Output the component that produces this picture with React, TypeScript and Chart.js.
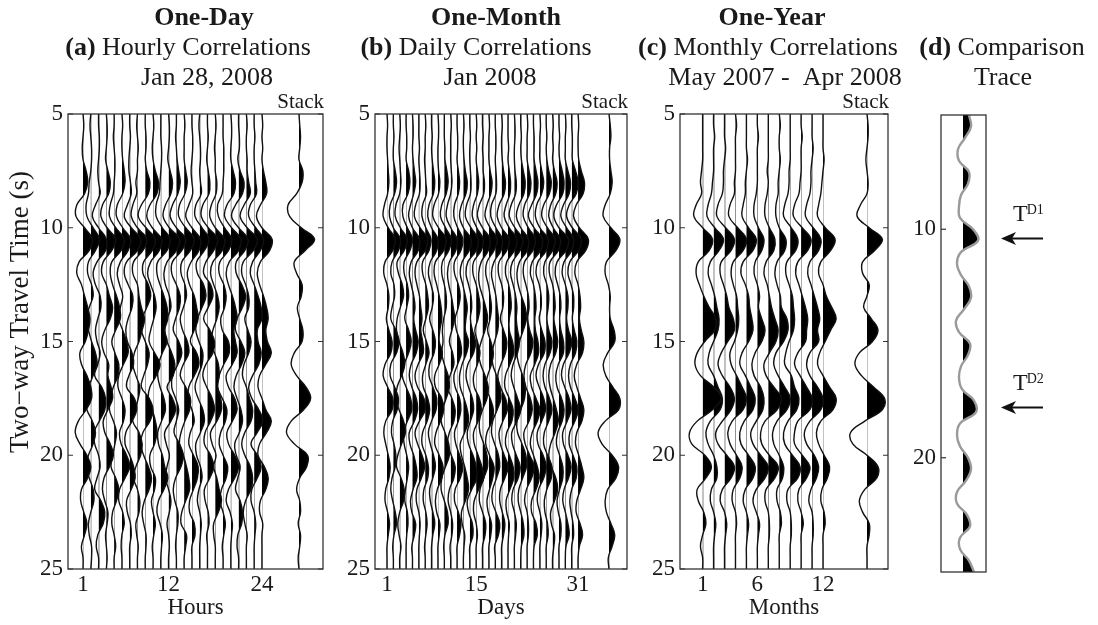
import React, { useEffect, useRef } from 'react';
import { Chart, registerables } from 'chart.js';

Chart.register(...registerables);

const FONT = "'Liberation Serif', 'Times New Roman', Times, serif";
const INK = '#1a1a1a';

// Sample times (s) of every trace
const TIMES = [5, 5.5, 6, 6.5, 7, 7.5, 8, 8.5, 9, 9.5, 10, 10.5, 11, 11.5, 12, 12.5, 13, 13.5, 14, 14.5, 15, 15.5, 16, 16.5, 17, 17.5, 18, 18.5, 19, 19.5, 20, 20.5, 21, 21.5, 22, 22.5, 23, 23.5, 24, 24.5, 25];

const TIME_TICKS = [5, 10, 15, 20, 25];
const COMP_TICKS = [10, 20];
const HOUR_TICKS = [1, 12, 24];
const DAY_TICKS = [1, 15, 31];
const MONTH_TICKS = [1, 6, 12];

// (a) hourly correlations, amplitude in tenths of trace spacing
const HOURLY = [
  [0,1,0,-1,0,4,6,2,-8,-9, 2,12,8,-5,-8,-2,2,6,9,7, 3,-4,-2,5,10,11,4,-6,-10,-4, 5,10,6,-2,-3,1,5,2,-2,0,0],
  [0,-1,0,1,1,0,-2,-3,-6,-5, 3,11,6,-3,-4,1,3,-2,-6,-3, 1,6,8,3,-3,-7,-5,2,6,3, -3,-6,-2,3,4,0,-3,-2,1,1,0],
  [0,0,1,1,0,-1,0,2,-4,-8, 0,10,9,-2,-7,-4,2,3,-1,-4, -2,2,-1,-5,4,9,8,1,-6,-5, 0,2,-2,-5,3,8,6,-1,-3,0,0],
  [0,1,1,0,-1,2,5,3,-5,-7, 1,12,7,-4,-6,0,4,8,5,-2, -6,-3,3,2,6,8,2,-4,-2,5, 9,4,-3,-5,-2,2,1,-1,0,1,0],
  [0,0,-1,0,1,1,0,-1,-5,-6, 2,13,9,-3,-5,-2,3,7,8,2, -3,1,6,5,-1,-5,-6,-1,3,1, -2,-4,2,6,3,-2,-3,0,2,0,0],
  [0,1,0,0,1,3,4,1,-6,-7, 1,11,8,-2,-6,-3,1,-2,-4,1, 6,8,2,-4,-5,0,4,2,-3,-1, 6,10,4,-3,-4,1,3,0,-1,0,0],
  [0,0,1,0,-1,-1,1,2,-3,-7, 2,14,10,-4,-7,-2,4,3,-2,-5, -3,3,5,-1,-4,6,9,3,-5,-6, 0,5,7,2,-4,-3,1,2,0,0,0],
  [0,-1,0,1,0,0,-2,-1,-6,-8, 0,12,7,-5,-6,0,2,5,9,6, 2,-4,-6,-2,3,1,-3,-6,2,6, 4,-2,-5,0,3,2,-2,-1,1,0,0],
  [0,0,1,1,0,2,6,4,-5,-9, 1,13,9,-2,-3,4,7,2,-4,-5, 0,5,3,-2,-5,5,10,6,-3,-6, -2,4,8,5,-1,-4,-2,1,1,0,0],
  [0,1,0,-1,0,3,7,5,-4,-8, -1,11,8,-3,-7,-3,2,4,1,-3, -5,2,9,4,-4,-6,-1,3,5,2, -4,-3,3,2,-2,0,3,1,-1,0,0],
  [0,0,0,1,1,0,-1,-2,-6,-6, 2,12,8,-4,-5,-1,4,8,9,5, 8,2,-3,-4,-1,4,6,1,-4,-3, 2,5,9,4,-3,-5,-1,2,1,0,0],
  [0,1,1,0,-1,2,5,3,-4,-7, 1,14,10,-2,-6,-4,1,3,-2,-5, -2,4,8,6,-2,5,9,3,-5,-3, 1,-2,-4,0,3,1,-2,0,1,0,0],
  [0,0,-1,0,1,3,5,2,-5,-8, 0,12,7,-5,-6,0,5,4,-1,-4, 3,7,2,-5,-6,-1,3,0,-3,4, 9,6,-1,-4,-2,2,2,0,-1,0,0],
  [0,1,0,0,0,2,4,1,-6,-7, 2,13,8,-3,-4,1,3,-1,-5,-2, 4,6,-1,-5,2,8,7,1,-4,-6, -1,3,6,7,2,-3,-4,3,2,0,0],
  [0,0,1,1,0,-1,0,1,-4,-8, 0,11,9,-1,-6,-3,3,6,8,3, -2,6,9,3,-4,-5,0,3,-2,-4, 2,8,7,2,-3,-3,3,4,0,0,0],
  [0,-1,0,1,1,0,1,2,-5,-6, 3,12,6,-4,-3,5,8,3,-3,-5, -1,4,3,-2,-6,-2,4,6,1,-5, -4,1,3,-1,-3,0,2,1,0,0,0],
  [0,0,1,0,-1,1,3,2,-6,-8, 1,13,8,-2,-5,4,7,1,-5,3, 9,7,-2,-6,-1,6,9,4,-3,-4, 4,8,3,-4,-3,1,2,-1,0,0,0],
  [0,1,0,-1,0,0,2,1,-5,-7, 0,12,9,-3,-6,-2,3,5,2,-3, -5,-1,4,5,3,7,8,2,-6,-4, 1,-2,2,5,8,4,-2,-2,0,0,0],
  [0,0,0,1,1,1,0,-1,-7,-6, 2,11,7,-4,-5,1,4,2,-3,-1, 7,8,1,-5,-7,-1,5,3,-3,-5, 0,6,4,-2,-4,0,3,1,-1,0,0],
  [0,1,1,0,0,3,6,4,-5,-8, 1,13,10,-2,-6,-3,2,6,8,4, 6,8,2,-6,-3,5,8,2,-5,-3, 5,10,5,-3,-6,-1,2,1,0,0,0],
  [0,0,1,1,-1,2,7,5,-4,-9, 0,12,8,-3,-3,4,9,5,-2,-4, 3,8,4,-3,-6,-2,3,5,1,-5, -3,2,-1,-4,2,5,4,-1,-2,0,0],
  [0,1,0,0,1,1,3,5,-3,-8, 1,14,9,-4,-6,-1,3,3,-2,2, 6,3,-3,-5,0,4,8,6,-2,-6, -2,5,8,6,-1,-4,-2,1,0,0,0],
  [0,0,1,0,0,1,2,3,-5,-7, 2,12,8,-2,-5,0,5,9,10,4, 5,9,6,-2,-7,-3,6,11,4,-4, 4,9,4,-3,-4,0,2,1,0,0,0],
  [0,1,0,1,0,2,5,6,-2,-7, 0,13,10,-2,-6,-3,2,6,8,5, 7,12,5,-3,-5,0,5,12,6,-3, -5,3,8,5,-2,-3,1,0,0,0,0],
];
const HOURLY_STACK = [0,1,2,1,0,5,4,-3,-14,-12, 3,20,8,-6,-3,4,3,-2,1,5, 4,-6,-10,-3,9,15,6,-10,-16,-6, 11,10,1,-3,1,2,-1,2,1,-1,0];

// (b) daily correlations
const DAILY = [
  [0,1,0,0,1,2,3,1,-4,-6, 2,13,9,-3,-5,0,3,2,-1,3, 8,6,-3,-6,1,9,8,-2,-5,-2, 2,5,3,-2,-3,1,4,2,0,0,0],
  [0,0,1,0,0,3,5,2,-5,-6, 0,11,8,-2,-4,1,2,-2,-4,4, 9,5,-4,-5,2,8,6,-1,-3,1, 4,3,-2,-4,-1,3,5,1,-1,0,0],
  [0,1,0,-1,0,1,2,0,-6,-7, 1,12,7,-4,-2,4,6,1,-4,-5, -1,5,8,3,-4,-6,-1,6,9,3, -3,-5,2,7,6,0,-3,-1,2,0,0],
  [0,0,1,1,0,4,6,3,-5,-5, 2,10,6,-3,-3,2,4,1,-2,4, 8,4,-3,-6,0,7,9,2,-4,-3, 1,4,2,-1,-2,2,3,1,0,0,0],
  [0,1,1,0,1,3,5,2,-3,-6, 0,11,9,-2,-5,-2,2,4,2,5, 9,6,-2,-5,-1,6,8,3,-5,-4, 2,6,7,1,-3,-1,5,3,-1,0,0],
  [0,0,0,1,0,1,2,1,-5,-7, 2,14,10,-3,-6,-3,1,3,5,3, 6,7,-1,-6,-2,8,10,1,-6,-2, 5,9,4,-3,-4,0,2,1,0,0,0],
  [0,1,0,0,-1,0,1,2,-4,-5, 1,9,6,-4,-4,1,4,5,1,-3, 2,6,1,-4,-3,4,7,3,-4,-5, 1,5,4,-2,-3,1,3,1,-1,0,0],
  [0,0,1,0,1,3,5,3,-4,-6, 0,10,8,-2,-5,-1,3,1,-3,2, 6,4,-3,-4,2,8,7,0,-5,-2, 3,6,2,-3,-2,2,5,2,0,0,0],
  [0,1,1,0,0,1,3,1,-6,-8, 1,13,9,-4,-6,-2,2,5,6,3, 2,7,2,-5,-4,6,9,4,-3,-5, 2,8,6,-1,-4,-2,3,2,0,0,0],
  [0,0,0,1,1,4,6,3,-4,-6, 2,11,7,-3,-4,0,3,3,-1,-3, -2,-4,0,6,8,3,-3,-5,1,7, 8,2,-4,-5,0,5,6,1,-1,0,0],
  [0,1,0,0,0,1,2,0,-5,-7, 0,10,8,-2,-5,-3,1,4,6,2, -2,3,5,-1,-5,2,7,5,-2,-5, 1,7,5,-2,-4,0,3,2,-1,0,0],
  [0,0,1,1,0,2,4,2,-4,-5, 1,9,6,-4,-4,2,5,2,-3,-1, 5,7,1,-5,-3,4,6,2,-4,-2, 4,9,5,-3,-4,2,6,4,0,0,0],
  [0,1,0,0,1,3,6,4,-3,-6, 0,12,9,-2,-5,-1,3,6,4,3, 8,5,-2,-6,-5,1,6,8,2,-5, -3,2,6,8,3,-3,-2,2,1,0,0],
  [0,0,1,0,0,1,2,1,-5,-7, 2,13,10,-3,-6,-2,2,3,1,4, 9,6,-3,-6,-2,4,6,1,-4,-2, 5,10,11,3,-4,-2,4,5,0,0,0],
  [0,1,0,1,0,2,4,2,-4,-6, 1,11,8,-4,-5,0,4,6,3,-2, 2,6,2,-4,-3,5,8,3,-4,-3, 3,9,12,4,-3,-4,0,2,0,0,0],
  [0,0,1,0,1,1,3,2,-5,-8, 0,12,9,-2,-6,-5,0,5,8,4, -2,-6,-3,4,9,7,0,-5,-4,2, 7,8,2,-4,-5,0,5,4,0,0,0],
  [0,1,0,0,0,2,5,3,-3,-6, 2,13,8,-3,-5,-1,2,4,2,-2, 3,7,4,-2,-5,2,7,5,-3,-5, 1,8,6,1,-3,-1,4,3,0,0,0],
  [0,0,1,1,0,1,2,1,-6,-7, 1,11,9,-2,-6,-3,1,3,5,4, -1,-5,-4,2,7,9,3,-4,-6,-1, 5,7,2,-4,-5,1,7,5,-1,0,0],
  [0,1,0,0,1,3,6,4,-4,-7, 0,12,8,-4,-5,0,3,2,-2,3, 8,6,-1,-6,-2,6,9,2,-4,-2, 4,10,5,-2,-3,1,5,3,0,0,0],
  [0,0,0,1,0,2,4,3,-3,-6, 2,14,10,-2,-4,1,4,5,2,2, 7,9,3,-4,-5,2,8,6,-2,-4, 2,8,9,3,-3,-2,2,1,0,0,0],
  [0,1,1,0,0,1,3,2,-5,-8, 1,13,9,-3,-6,-2,2,4,3,5, 8,5,-2,-5,-1,5,10,4,-4,-3, 3,9,6,-2,-4,0,3,2,0,0,0],
  [0,0,1,0,1,4,7,5,-3,-7, 0,12,10,-2,-6,-4,1,7,9,4, -2,-6,-3,3,7,6,0,-6,-5,2, 8,9,3,-3,-4,0,4,5,1,0,0],
  [0,1,0,0,0,3,6,4,-4,-6, 2,13,9,-4,-6,-2,2,3,1,4, 9,6,-2,-5,-2,5,8,3,-5,-3, 4,11,7,-1,-4,0,2,2,0,0,0],
  [0,0,1,1,1,4,7,5,-3,-8, 1,14,11,-2,-5,0,3,4,2,3, 7,8,2,-5,-3,4,10,6,-2,-5, 0,6,9,4,-3,-3,4,6,1,0,0],
  [0,1,0,0,0,3,6,3,-5,-7, 0,13,10,-3,-6,-1,2,2,-1,3, 8,7,-2,-6,-1,6,9,3,-4,-3, 5,10,6,-2,-4,0,3,2,0,0,0],
  [0,0,1,0,1,4,8,5,-4,-7, 2,14,10,-2,-4,1,4,3,1,4, 9,6,-2,-5,-2,5,9,4,-3,-4, 2,9,8,1,-3,-2,2,3,0,0,0],
  [0,1,0,1,0,3,7,5,-3,-6, 1,12,9,-4,-5,0,3,4,2,5, 8,5,-3,-6,-4,1,6,9,4,-3, -6,-2,5,8,3,-3,-2,3,2,0,0],
  [0,0,1,0,1,5,8,6,-4,-8, 0,15,11,-3,-6,-2,2,3,1,3, 7,7,-1,-5,-3,4,8,5,-2,-4, 1,6,6,1,-3,-1,3,3,0,0,0],
  [0,1,0,0,0,4,8,6,-3,-7, 2,13,10,-2,-5,0,4,4,2,5, 10,6,-3,-6,-1,6,9,3,-4,-3, 4,9,5,-2,-4,0,4,6,1,0,0],
  [0,0,1,1,1,6,10,7,-4,-8, 1,15,11,-3,-6,-1,3,3,1,4, 8,6,-2,-5,-2,5,10,5,-3,-4, 2,8,7,0,-3,-1,2,3,0,0,0],
  [0,1,0,0,1,5,10,8,-3,-7, 2,16,12,-2,-5,0,3,4,2,5, 9,7,-2,-6,-2,4,9,6,-2,-4, 1,6,9,4,-2,-3,3,7,2,0,0],
];
const DAILY_STACK = [0,2,3,1,1,3,5,2,-6,-9, 3,17,11,-4,-6,-1,2,1,2,8, 9,-2,-9,-5,6,17,15,-6,-17,-11, 5,15,11,-2,-6,-4,3,9,5,-1,0];

// (c) monthly correlations
const MONTHLY = [
  [0,0,0,0,0,-1,-2,-1,-6,-8, 0,9,6,-4,-6,-3,1,6,12,11, 2,-5,-7,-2,10,17,9,-5,-12,-10, 2,8,3,-5,-4,1,3,0,-2,0,0],
  [0,0,1,0,0,0,-1,-2,-5,-6, 1,9,5,-3,-5,-2,1,3,5,4, 0,-4,-5,0,4,8,6,-3,-7,-5, 0,3,3,-2,-3,0,2,1,0,0,0],
  [0,0,0,1,0,-1,-1,-2,-6,-7, 1,9,6,-3,-4,-1,2,4,8,9, 3,-3,-6,-2,5,9,6,-2,-8,-6, 2,9,6,-2,-4,0,2,1,0,0,0],
  [0,1,0,0,0,0,-1,-1,-5,-6, 2,10,7,-2,-4,-2,1,2,3,2, -1,-5,-4,1,6,10,7,-3,-7,-5, 1,6,4,-2,-3,0,1,0,0,0,0],
  [0,0,0,0,1,0,-1,-1,-3,-4, 2,9,6,-3,-5,-1,2,3,5,6, 2,-4,-6,-1,4,8,6,-2,-6,-5, 2,8,6,-1,-3,0,2,1,0,0,0],
  [0,0,1,0,0,0,0,-1,-3,-3, 1,6,4,-2,-3,0,2,1,4,7, 4,-2,-5,-3,3,6,5,-1,-6,-4, 3,10,7,-1,-4,-1,2,1,0,0,0],
  [0,0,0,0,0,-1,0,-1,-3,-3, 1,6,5,-2,-4,-1,1,3,6,9, 7,1,-4,-2,5,12,8,-3,-7,-6, 1,9,6,-2,-3,0,1,1,0,0,0],
  [0,1,0,0,1,0,-1,-1,-3,-3, 0,6,5,-2,-4,-2,1,2,7,8, 4,-3,-5,-1,5,10,7,-2,-6,-5, 0,4,3,-2,-2,1,2,0,0,0,0],
  [0,0,0,0,0,-1,-1,-2,-5,-6, 1,7,5,-3,-4,-1,2,3,4,3, -1,-4,-5,1,4,8,6,-2,-6,-5, 2,9,7,-2,-3,0,1,1,0,0,0],
  [0,0,1,0,0,0,-1,-2,-6,-7, 1,9,6,-3,-5,-2,1,4,6,5, 4,-3,-6,-1,5,10,8,-3,-6,-6, 1,8,5,-2,-3,0,2,0,0,0,0],
  [0,0,0,1,0,-1,-1,-2,-5,-6, 1,8,6,-2,-4,-1,2,5,7,5, 6,-2,-5,-2,5,10,8,-2,-7,-5, 2,6,4,-1,-3,0,1,1,0,0,0],
  [0,0,0,0,1,0,-1,-2,-4,-5, 2,11,7,-2,-4,0,3,8,12,7, 2,-3,-5,0,6,12,9,-2,-6,-4, 1,6,4,-1,-2,1,2,0,0,0,0],
];
const MONTHLY_STACK = [0,1,1,0,-1,0,1,0,-6,-9, 2,14,7,-4,-4,2,0,-3,4,10, 5,-7,-11,-5,6,16,14,-2,-15,-13, 0,10,9,-2,-7,-4,2,2,0,0,0];

// (d) comparison trace, amplitude in pixels of panel width
const COMPARISON = [6,8,2,-5,-4,6,5,-2,-4,-3, 10,15,-2,-6,-2,6,8,1,-7,-4, 7,5,-2,-4,-1,11,13,-3,-6,-3, 5,8,3,-6,-6,4,7,-3,-3,6,11];

const ARROW_TIMES = [10.4, 17.8];
const ARROW_LABELS = ['D1', 'D2'];

type Seg = { t: string; b?: boolean };
type TitleLine = { segs: Seg[]; cx: number; y: number };

type Panel = {
  id: string;
  left: number;
  width: number;
  frameL: number;
  frameR: number;
  top: number;
  bottom: number;
  xMin: number;
  xMax: number;
  traces: number[][];
  stack?: number[];
  stackX?: number;
  amp: number;
  xTicks?: number[];
  yTicks: number[];
  xTitle?: string;
  titles: TitleLine[];
  stackLabel?: boolean;
  yTitle?: boolean;
  comparison?: boolean;
};

const PANELS: Panel[] = [
  {
    id: 'a', left: 0, width: 345, frameL: 68, frameR: 323, top: 114, bottom: 569,
    xMin: -0.93, xMax: 31.85, traces: HOURLY, stack: HOURLY_STACK, stackX: 28.76, amp: 0.1,
    xTicks: HOUR_TICKS, yTicks: TIME_TICKS, xTitle: 'Hours', stackLabel: true, yTitle: true,
    titles: [
      { segs: [{ t: 'One-Day', b: true }], cx: 204, y: 25 },
      { segs: [{ t: '(a)', b: true }, { t: ' Hourly Correlations' }], cx: 188, y: 55 },
      { segs: [{ t: 'Jan 28, 2008' }], cx: 207, y: 85 },
    ],
  },
  {
    id: 'b', left: 340, width: 310, frameL: 375, frameR: 627, top: 114, bottom: 569,
    xMin: -0.88, xMax: 38.68, traces: DAILY, stack: DAILY_STACK, stackX: 35.85, amp: 0.1,
    xTicks: DAY_TICKS, yTicks: TIME_TICKS, xTitle: 'Days', stackLabel: true,
    titles: [
      { segs: [{ t: 'One-Month', b: true }], cx: 496, y: 25 },
      { segs: [{ t: '(b)', b: true }, { t: ' Daily Correlations' }], cx: 476, y: 55 },
      { segs: [{ t: 'Jan 2008' }], cx: 490, y: 85 },
    ],
  },
  {
    id: 'c', left: 630, width: 285, frameL: 680, frameR: 888, top: 114, bottom: 569,
    xMin: -1.07, xMax: 17.94, traces: MONTHLY, stack: MONTHLY_STACK, stackX: 16.02, amp: 0.1,
    xTicks: MONTH_TICKS, yTicks: TIME_TICKS, xTitle: 'Months', stackLabel: true,
    titles: [
      { segs: [{ t: 'One-Year', b: true }], cx: 772, y: 25 },
      { segs: [{ t: '(c)', b: true }, { t: ' Monthly Correlations' }], cx: 768, y: 55 },
      { segs: [{ t: 'May 2007 -  Apr 2008' }], cx: 785, y: 85 },
    ],
  },
  {
    id: 'd', left: 895, width: 203, frameL: 941, frameR: 986, top: 115, bottom: 572,
    xMin: -22, xMax: 23, traces: [COMPARISON], amp: 1, yTicks: COMP_TICKS, comparison: true,
    titles: [
      { segs: [{ t: '(d)', b: true }, { t: ' Comparison' }], cx: 1002, y: 55 },
      { segs: [{ t: 'Trace' }], cx: 1003, y: 85 },
    ],
  },
];

function traceDataset(values: number[], base: number, amp: number, comparison: boolean): any {
  return {
    data: values.map((v, i) => ({ x: base + v * amp, y: TIMES[i] })),
    base,
    guide: !comparison,
    fillColor: '#000',
    showLine: true,
    pointRadius: 0,
    pointHoverRadius: 0,
    borderColor: comparison ? '#9a9a9a' : '#111',
    borderWidth: comparison ? 2.4 : 1.4,
    tension: 0.4,
    fill: false,
  };
}

function drawRich(ctx: CanvasRenderingContext2D, segs: Seg[], cx: number, y: number, size: number) {
  let total = 0;
  const widths = segs.map((s) => {
    ctx.font = `${s.b ? 'bold ' : ''}${size}px ${FONT}`;
    const w = ctx.measureText(s.t).width;
    total += w;
    return w;
  });
  let x = cx - total / 2;
  ctx.textAlign = 'left';
  ctx.textBaseline = 'alphabetic';
  segs.forEach((s, i) => {
    ctx.font = `${s.b ? 'bold ' : ''}${size}px ${FONT}`;
    ctx.fillText(s.t, x, y);
    x += widths[i];
  });
}

function makePlugin(p: Panel) {
  return {
    id: 'wiggle_' + p.id,
    beforeDatasetsDraw(chart: any) {
      const { ctx, chartArea: a, scales } = chart;
      ctx.save();
      ctx.strokeStyle = '#c2c2c2';
      ctx.lineWidth = 1;
      chart.data.datasets.forEach((ds: any) => {
        if (!ds.guide) return;
        const x = Math.round(scales.x.getPixelForValue(ds.base)) + 0.5;
        ctx.beginPath();
        ctx.moveTo(x, a.top);
        ctx.lineTo(x, a.bottom);
        ctx.stroke();
      });
      ctx.restore();
    },
    beforeDatasetDraw(chart: any, args: any) {
      const { ctx, chartArea: a, scales } = chart;
      const ds = chart.data.datasets[args.index];
      const line = args.meta.dataset;
      if (!line || !line.points || !line.points.length) return;
      if (line.updateControlPoints) line.updateControlPoints(a, 'x');
      const pts = line.points;
      const basePx = scales.x.getPixelForValue(ds.base);
      ctx.save();
      ctx.beginPath();
      ctx.rect(basePx, a.top, a.right - basePx, a.bottom - a.top);
      ctx.clip();
      ctx.beginPath();
      if (typeof line.path === 'function') {
        line.path(ctx);
      } else {
        ctx.moveTo(pts[0].x, pts[0].y);
        for (let i = 1; i < pts.length; i++) {
          const pr = pts[i - 1];
          const pt = pts[i];
          ctx.bezierCurveTo(pr.cp2x ?? pr.x, pr.cp2y ?? pr.y, pt.cp1x ?? pt.x, pt.cp1y ?? pt.y, pt.x, pt.y);
        }
      }
      ctx.lineTo(basePx, pts[pts.length - 1].y);
      ctx.lineTo(basePx, pts[0].y);
      ctx.closePath();
      ctx.fillStyle = ds.fillColor;
      ctx.fill();
      ctx.restore();
    },
    afterDraw(chart: any) {
      const { ctx, chartArea: a, scales } = chart;
      const off = p.left;
      ctx.save();
      // frame
      ctx.strokeStyle = '#333';
      ctx.lineWidth = 1.3;
      ctx.strokeRect(a.left, a.top, a.right - a.left, a.bottom - a.top);
      // inward ticks
      ctx.lineWidth = 1.2;
      p.yTicks.forEach((t) => {
        const y = scales.y.getPixelForValue(t);
        ctx.beginPath();
        ctx.moveTo(a.left, y);
        ctx.lineTo(a.left + 5, y);
        if (!p.comparison) {
          ctx.moveTo(a.right, y);
          ctx.lineTo(a.right - 5, y);
        }
        ctx.stroke();
      });
      ctx.fillStyle = INK;
      // titles
      p.titles.forEach((tl) => drawRich(ctx, tl.segs, tl.cx - off, tl.y, 26));
      // stack label
      if (p.stackLabel) {
        ctx.font = `21px ${FONT}`;
        ctx.textAlign = 'right';
        ctx.textBaseline = 'alphabetic';
        ctx.fillText('Stack', a.right + 1, 108);
      }
      // y axis title
      if (p.yTitle) {
        ctx.save();
        ctx.translate(21, 312);
        ctx.rotate(-Math.PI / 2);
        ctx.font = `27px ${FONT}`;
        ctx.textAlign = 'center';
        ctx.textBaseline = 'middle';
        ctx.fillText('Two\u2212way Travel Time (s)', 0, 0);
        ctx.restore();
      }
      // arrows for comparison trace
      if (p.comparison) {
        ARROW_TIMES.forEach((t, i) => {
          const y = scales.y.getPixelForValue(t);
          const tip = 1001 - off;
          const tail = 1043 - off;
          ctx.strokeStyle = '#111';
          ctx.lineWidth = 2;
          ctx.beginPath();
          ctx.moveTo(tail, y);
          ctx.lineTo(tip + 8, y);
          ctx.stroke();
          ctx.fillStyle = '#111';
          ctx.beginPath();
          ctx.moveTo(tip, y);
          ctx.lineTo(tip + 15, y - 6.5);
          ctx.lineTo(tip + 11, y);
          ctx.lineTo(tip + 15, y + 6.5);
          ctx.closePath();
          ctx.fill();
          ctx.fillStyle = INK;
          ctx.textAlign = 'left';
          ctx.textBaseline = 'alphabetic';
          ctx.font = `24px ${FONT}`;
          const tx = 1013 - off;
          const ty = y - 17;
          ctx.fillText('T', tx, ty);
          const tw = ctx.measureText('T').width;
          ctx.font = `14px ${FONT}`;
          ctx.fillText(ARROW_LABELS[i], tx + tw - 1, ty - 7);
        });
      }
      ctx.restore();
    },
  };
}

function buildConfig(p: Panel): any {
  const datasets: any[] = p.traces.map((tr, i) =>
    traceDataset(tr, p.comparison ? 0 : i + 1, p.amp, !!p.comparison)
  );
  if (p.stack && p.stackX !== undefined) datasets.push(traceDataset(p.stack, p.stackX, p.amp, false));
  const tickFont = { family: FONT, size: 23 };
  const xAxisHeight = 625 - p.bottom;
  return {
    type: 'scatter',
    data: { datasets },
    options: {
      animation: false,
      responsive: false,
      devicePixelRatio: 1,
      events: [],
      layout: {
        padding: {
          top: p.top,
          right: p.left + p.width - p.frameR,
          bottom: 0,
          left: 0,
        },
      },
      plugins: { legend: { display: false }, tooltip: { enabled: false }, title: { display: false } },
      scales: {
        x: {
          type: 'linear',
          display: true,
          min: p.xMin,
          max: p.xMax,
          grid: { display: false, drawTicks: false },
          border: { display: false },
          afterBuildTicks: (s: any) => {
            s.ticks = (p.xTicks || []).map((v) => ({ value: v }));
          },
          afterFit: (s: any) => {
            s.height = xAxisHeight;
          },
          ticks: { display: !p.comparison, font: tickFont, color: INK, padding: 2, autoSkip: false, maxRotation: 0, minRotation: 0 },
          title: {
            display: !!p.xTitle,
            text: p.xTitle || '',
            font: tickFont,
            color: INK,
            padding: { top: 0, bottom: 3 },
          },
        },
        y: {
          type: 'linear',
          reverse: true,
          min: 5,
          max: 25,
          grid: { display: false, drawTicks: false },
          border: { display: false },
          afterBuildTicks: (s: any) => {
            s.ticks = p.yTicks.map((v) => ({ value: v }));
          },
          afterFit: (s: any) => {
            s.width = p.frameL - p.left;
          },
          ticks: { font: tickFont, color: INK, padding: 5, autoSkip: false },
        },
      },
    },
    plugins: [makePlugin(p)],
  };
}

export default function App() {
  const refs = useRef<(HTMLCanvasElement | null)[]>([]);
  useEffect(() => {
    document.body.style.margin = '0';
    const charts = PANELS.map((p, i) => new Chart(refs.current[i] as HTMLCanvasElement, buildConfig(p)));
    return () => charts.forEach((c) => c.destroy());
  }, []);
  return (
    <div style={{ position: 'fixed', left: 0, top: 0, width: 1098, height: 625, background: '#fff', overflow: 'hidden' }}>
      {PANELS.map((p, i) => (
        <canvas
          key={p.id}
          ref={(el) => {
            refs.current[i] = el;
          }}
          width={p.width}
          height={625}
          style={{ position: 'absolute', left: p.left, top: 0, width: p.width, height: 625 }}
        />
      ))}
    </div>
  );
}
